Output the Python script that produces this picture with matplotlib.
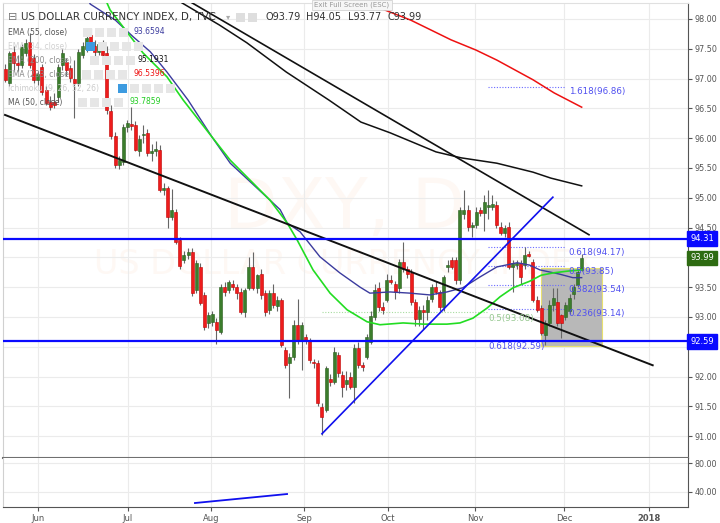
import numpy as np
import matplotlib.pyplot as plt
from matplotlib.patches import Rectangle

W, H = 720, 523

# daily candles, x = trading day counted from 1 Jun 2017 (0) up to 7 Dec 2017 (133)
first_idx = -9
opens = [97.16, 96.93, 97.45, 97.26, 97.23, 97.43, 97.61, 97.35, 96.98, 97.19,
         96.80, 96.61, 96.60, 96.69, 97.23, 97.28, 97.18, 97.00, 96.93, 97.40,
         97.50, 97.73, 97.55, 97.45, 97.55, 97.43, 96.45, 96.04, 95.55, 95.60,
         96.19, 96.24, 96.22, 95.79, 96.05, 96.08, 95.75, 95.78, 95.80, 95.13,
         95.16, 94.68, 94.76, 94.29, 93.96, 94.04, 94.09, 93.45, 93.84, 93.37,
         92.90, 92.92, 92.92, 92.75, 93.50, 93.45, 93.55, 93.50, 93.42, 93.08,
         93.49, 93.84, 93.49, 93.72, 93.40, 93.12, 93.40, 93.18,
         93.29, 92.45, 92.23, 92.33, 92.87, 92.61, 92.66, 92.61, 92.25, 92.23,
         91.49, 91.44, 91.96, 91.91, 92.36, 92.03, 91.88, 92.00, 91.83, 92.48,
         92.20, 92.33, 92.58, 93.00, 93.49, 93.17, 93.29, 93.62, 93.55, 93.49,
         93.92, 93.80, 93.74, 93.25, 92.97, 93.12, 93.08, 93.30, 93.50, 93.42,
         93.17, 93.84, 93.96, 93.96, 93.62, 94.73, 94.80, 94.51, 94.54, 94.80,
         94.74, 94.85, 94.85, 94.88, 94.51, 94.41, 94.51, 93.84, 93.87, 93.91,
         93.87, 94.06, 93.92, 93.29, 93.15, 92.70, 92.90, 93.20, 93.25, 93.03,
         93.00, 93.10, 93.38, 93.54, 93.79]
highs = [97.25, 97.47, 97.55, 97.40, 97.58, 97.66, 97.77, 97.42, 97.12, 97.25,
         96.88, 96.70, 96.75, 97.24, 97.50, 97.35, 97.22, 97.31, 97.50, 97.62,
         97.72, 97.85, 97.65, 97.62, 97.65, 97.55, 96.55, 96.10, 95.70, 96.24,
         96.30, 96.52, 96.28, 96.05, 96.22, 96.15, 95.90, 95.95, 95.88, 95.25,
         95.20, 95.15, 94.82, 94.35, 94.10, 94.15, 94.15, 93.95, 93.90, 93.42,
         93.08, 93.10, 92.98, 93.55, 93.58, 93.62, 93.62, 93.55, 93.48, 93.48,
         94.00, 94.09, 93.72, 93.80, 93.45, 93.45, 93.55, 93.35,
         93.32, 92.50, 92.40, 92.95, 93.30, 92.92, 92.72, 92.65, 92.30, 92.28,
         91.55, 92.18, 92.05, 92.50, 92.42, 92.10, 92.10, 92.08, 92.55, 92.58,
         92.25, 92.72, 93.10, 93.55, 93.58, 93.25, 93.72, 93.70, 93.60, 93.98,
         94.26, 93.85, 93.80, 93.30, 93.18, 93.20, 93.35, 93.55, 93.60, 93.45,
         93.70, 93.95, 94.00, 94.00, 94.85, 95.13, 94.88, 94.60, 94.85, 94.85,
         95.05, 95.13, 95.05, 94.95, 94.60, 94.55, 94.60, 93.95, 93.95, 93.95,
         94.17, 94.10, 93.98, 93.35, 93.20, 92.95, 93.28, 93.49, 93.49, 93.05,
         93.25, 93.38, 93.55, 93.80, 94.05]
lows = [96.95, 96.88, 97.15, 97.12, 97.18, 97.38, 97.18, 96.92, 96.90, 96.72,
        96.55, 96.48, 96.50, 96.60, 97.15, 97.05, 96.95, 96.34, 96.88, 97.35,
        97.45, 97.48, 97.38, 97.40, 97.35, 96.40, 95.98, 95.50, 95.48, 95.55,
        96.10, 96.14, 95.78, 95.70, 95.92, 95.70, 95.62, 95.70, 95.10, 95.05,
        94.49, 94.62, 94.22, 93.80, 93.90, 93.98, 93.35, 93.40, 93.20, 92.78,
        92.82, 92.85, 92.55, 92.72, 93.35, 93.40, 93.45, 93.30, 93.05, 93.00,
        93.45, 93.45, 93.40, 93.30, 93.02, 93.05, 93.15, 93.10,
        92.50, 92.15, 91.64, 92.28, 92.55, 92.11, 92.55, 92.22, 92.15, 91.50,
        91.02, 91.40, 91.85, 91.88, 92.00, 91.65, 91.78, 91.80, 91.56, 92.15,
        92.10, 92.30, 92.55, 92.95, 93.10, 93.05, 93.25, 93.55, 93.30, 93.40,
        93.75, 93.65, 93.20, 92.85, 92.85, 92.80, 92.95, 93.25, 93.38, 93.10,
        93.10, 93.75, 93.80, 93.55, 93.55, 94.65, 94.45, 94.35, 94.50, 94.70,
        94.45, 94.65, 94.80, 94.50, 94.38, 94.35, 93.80, 93.42, 93.80, 93.55,
        93.80, 94.00, 93.25, 93.08, 92.70, 92.53, 92.85, 93.10, 92.85, 92.65,
        92.95, 93.05, 93.30, 93.50, 93.77]
closes = [96.98, 97.43, 97.26, 97.22, 97.53, 97.60, 97.23, 96.98, 97.08, 96.78,
          96.59, 96.52, 96.55, 97.19, 97.43, 97.14, 97.01, 96.92, 97.45, 97.55,
          97.68, 97.53, 97.45, 97.58, 97.40, 96.47, 96.04, 95.55, 95.63, 96.19,
          96.25, 96.21, 95.80, 95.99, 96.07, 95.75, 95.78, 95.82, 95.13, 95.17,
          94.68, 94.80, 94.26, 93.86, 94.04, 94.09, 93.40, 93.91, 93.24, 92.83,
          93.03, 93.05, 92.78, 93.50, 93.42, 93.59, 93.50, 93.40, 93.08, 93.45,
          93.84, 93.49, 93.70, 93.37, 93.08, 93.40, 93.20, 93.29,
          92.53, 92.19, 92.33, 92.87, 92.61, 92.87, 92.61, 92.28, 92.23, 91.56,
          91.32, 92.14, 91.91, 92.41, 92.06, 91.83, 91.95, 91.83, 92.48, 92.20,
          92.16, 92.66, 93.02, 93.45, 93.17, 93.12, 93.62, 93.59, 93.42, 93.92,
          93.80, 93.72, 93.25, 92.97, 93.12, 93.09, 93.29, 93.50, 93.42, 93.17,
          93.67, 93.87, 93.84, 93.62, 94.80, 94.80, 94.51, 94.54, 94.76, 94.74,
          94.93, 94.88, 94.90, 94.54, 94.41, 94.50, 93.84, 93.91, 93.91, 93.67,
          94.04, 94.03, 93.29, 93.12, 92.73, 92.90, 93.20, 93.32, 92.90, 92.90,
          93.20, 93.32, 93.50, 93.76, 93.99]

# indicator curves (x = trading day, y = price)
ema55_x = [10.5, 11.9, 18.1, 22.5, 26.7, 30.8, 36.0, 41.9, 46.4, 56.2, 58.7, 60.4, 63.6,
           68.5, 73.4, 78.4, 80.8, 85.8, 90.7, 95.6, 99.8, 103.7, 107.9, 112.1, 117.1,
           120.2, 122.7, 127.5, 130.8, 133.0]
ema55_y = [98.45, 98.25, 97.98, 97.70, 97.45, 97.11, 96.64, 96.02, 95.58, 94.96, 94.80, 94.58, 94.43,
           94.01, 93.74, 93.50, 93.40, 93.42, 93.40, 93.37, 93.42, 93.49, 93.67, 93.84, 93.91,
           93.87, 93.79, 93.72, 93.66, 93.66]
ma50_x = [15.5, 16.8, 24.9, 30.8, 34.8, 41.9, 46.4, 56.2, 60.4, 62.9, 66.8, 71.0, 75.2, 80.1,
          83.3, 89.0, 93.9, 99.8, 103.0, 106.2, 109.7, 112.9, 116.1, 120.2, 123.0, 126.0,
          129.6, 133.0]
ma50_y = [98.35, 98.15, 97.43, 97.03, 96.64, 96.02, 95.63, 94.96, 94.58, 94.29, 93.79, 93.40, 93.12,
          92.92, 92.87, 92.90, 92.88, 92.88, 92.90, 92.98, 93.15, 93.34, 93.49, 93.60, 93.70,
          93.74, 93.77, 93.79]
ema200_x = [34.5, 43.7, 50.5, 60.2, 70.7, 78.6, 85.8, 97.1, 103.3, 112.1, 121.0, 125.4, 133.0]
ema200_y = [98.27, 97.90, 97.60, 97.11, 96.64, 96.27, 96.09, 95.77, 95.67, 95.58, 95.43, 95.33, 95.20]
ema233_x = [80.0, 90.9, 100.8, 106.9, 112.1, 121.0, 126.2, 133.0]
ema233_y = [98.27, 97.98, 97.65, 97.48, 97.31, 96.98, 96.76, 96.52]

# drawings
trend_upper = ([37.0, 134.8], [98.27, 94.38])
trend_lower = ([-9.1, 150.5], [96.39, 92.19])
trend_rise = ([69.0, 125.9], [91.04, 95.01])
levels = [94.31, 92.59]
fib_vals = [96.86, 94.17, 93.85, 93.54, 93.14]
fib_labels = ['1.618(96.86)', '0.618(94.17)', '0.5(93.85)', '0.382(93.54)', '0.236(93.14)']
fib_span = [109.9, 128.9]
fib_green = 93.08
fib_green_span = [69.0, 109.9]
box_x = [123.0, 138.0]
box_y = [92.51, 93.82]
osc_line = ([37.7, 60.4], [24.8, 37.2])

month_pos = [-0.9, 21.2, 41.7, 64.6, 85.3, 106.7, 128.6, 149.6]
month_lab = ['Jun', 'Jul', 'Aug', 'Sep', 'Oct', 'Nov', 'Dec', '2018']

legend_rows = [('EMA (55, close)', '#555555', '93.6594', '#3b3b9e', 133),
               ('EMA (34, close)', '#d0d0d0', '', None, 0),
               ('EMA (200, close)', '#8a8a8a', '95.1931', '#111111', 138),
               ('EMA (233, close)', '#8a8a8a', '96.5396', '#ee1111', 133),
               ('Ichimoku (9, 26, 52, 26)', '#cccccc', '', None, 0),
               ('MA (50, close)', '#555555', '93.7859', '#22cc22', 129)]


def fx(x):
    return x / W


def fy(y):
    return 1 - y / H


fig = plt.figure(figsize=(7.2, 5.23), dpi=100)
ax = fig.add_axes([fx(3), fy(458), (688 - 3) / W, (458 - 3) / H])
ax2 = fig.add_axes([fx(3), fy(507), (688 - 3) / W, (507 - 458) / H])

o = np.array(opens)
h = np.array(highs)
l = np.array(lows)
c = np.array(closes)
x = np.arange(first_idx, first_idx + len(c))

# watermark
ax.text(fx(345), fy(208), 'DXY, D', transform=fig.transFigure, fontsize=50,
        color='#fef8f4', ha='center', va='center', zorder=0)
ax.text(fx(345), fy(265), 'US DOLLAR CURRENCY INDEX', transform=fig.transFigure,
        fontsize=24, color='#fef8f4', ha='center', va='center', zorder=0)

# candles
up = c >= o
ax.vlines(x, l, h, color='#666666', lw=0.8, zorder=4)
body_lo = np.minimum(o, c)
body_h = np.maximum(np.abs(c - o), 0.015)
ax.bar(x[up], body_h[up], bottom=body_lo[up], width=0.74, color='#3b7d2c',
       edgecolor='#2a5e1e', lw=0.4, zorder=5)
ax.bar(x[~up], body_h[~up], bottom=body_lo[~up], width=0.74, color='#ee1c1c',
       edgecolor='#c00000', lw=0.4, zorder=5)

# gray box
ax.add_patch(Rectangle((box_x[0], box_y[0]), box_x[1] - box_x[0], box_y[1] - box_y[0],
                       facecolor='#b8b8b8', edgecolor='#e8e070', lw=0.8, zorder=2))

# moving averages
ax.plot(ema55_x, ema55_y, color='#3b3b9e', lw=1.0, zorder=6)
ax.plot(ma50_x, ma50_y, color='#22dd22', lw=1.2, zorder=6)
ax.plot(ema200_x, ema200_y, color='#111111', lw=1.1, zorder=6)
ax.plot(ema233_x, ema233_y, color='#ee1111', lw=1.1, zorder=6)

# trend lines and levels
ax.plot(*trend_upper, color='#111111', lw=1.2, zorder=6)
ax.plot(*trend_lower, color='#111111', lw=1.4, zorder=6)
ax.plot(*trend_rise, color='#1010ee', lw=1.2, zorder=6)
for lv in levels:
    ax.axhline(lv, color='#0a0aff', lw=1.6, zorder=6)

for v, s in zip(fib_vals, fib_labels):
    ax.plot(fib_span, [v, v], color='#6a6aff', lw=0.8, ls=(0, (1, 1.5)), zorder=3)
    ax.text(129.8, v - 0.08, s, fontsize=6.3, color='#5050f0', va='center', ha='left', zorder=7)
ax.plot(fib_green_span, [fib_green, fib_green], color='#a8dca0', lw=0.8, ls=(0, (1, 1.5)), zorder=3)
ax.text(109.9, fib_green - 0.1, '0.5(93.08)', fontsize=6.3, color='#96c890', va='center', zorder=7)
ax.text(109.9, levels[1] - 0.09, '0.618(92.59)', fontsize=6.3, color='#5050f0', va='center', zorder=7)

# price tags on axis
for val, col in [(94.31, '#0a0aff'), (93.99, '#2e6b12'), (92.59, '#0a0aff')]:
    ax.annotate(f'{val:.2f}', xy=(1, val), xycoords=('axes fraction', 'data'),
                xytext=(1.5, 0), textcoords='offset points', ha='left', va='center',
                fontsize=6, color='white', annotation_clip=False, zorder=10,
                bbox=dict(boxstyle='square,pad=0.35', fc=col, ec=col))

# axes styling
xlim = (-9.6, 159.2)
ax.set_xlim(*xlim)
ax.set_ylim(90.634, 98.268)
ax.set_yticks(np.arange(91, 98.01, 0.5))
ax.yaxis.set_major_formatter(plt.FuncFormatter(lambda v, p: f'{v:.2f}'))
ax.yaxis.tick_right()
ax.set_xticks(month_pos)
ax.tick_params(axis='x', length=0, labelbottom=False)
ax.tick_params(axis='y', colors='#555555', labelsize=5.8, length=3, pad=2)
ax.grid(color='#ebebeb', lw=0.8)
ax.set_axisbelow(True)
ax.spines['top'].set_color('#e0e0e0')
ax.spines['left'].set_color('#d0d0d0')
ax.spines['right'].set_color('#555555')
ax.spines['bottom'].set_color('#707070')
ax.spines['bottom'].set_linewidth(1.5)

ax2.plot(*osc_line, color='#1010ee', lw=1.3)
ax2.set_xlim(*xlim)
ax2.set_ylim(19.3, 86.9)
ax2.set_yticks([40, 80])
ax2.yaxis.set_major_formatter(plt.FuncFormatter(lambda v, p: f'{v:.2f}'))
ax2.yaxis.tick_right()
ax2.set_xticks(month_pos)
ax2.set_xticklabels(month_lab)
ax2.get_xticklabels()[-1].set_fontweight('bold')
ax2.tick_params(axis='y', colors='#555555', labelsize=5.8, length=3, pad=2)
ax2.tick_params(axis='x', colors='#555555', labelsize=6, length=3, pad=2)
ax2.grid(color='#ebebeb', lw=0.8)
ax2.set_axisbelow(True)
ax2.spines['top'].set_visible(False)
ax2.spines['left'].set_color('#d0d0d0')
ax2.spines['right'].set_color('#555555')
ax2.spines['bottom'].set_color('#555555')

# header
fig.text(fx(8), fy(17), '\u229f', fontsize=8, color='#777777', va='center')
fig.text(fx(21), fy(17), 'US DOLLAR CURRENCY INDEX, D, TVC', fontsize=7.4, color='#333333', va='center')
fig.text(fx(226), fy(17), '\u25be', fontsize=6, color='#aaaaaa', va='center')
for sx in (236, 248):
    fig.patches.append(Rectangle((fx(sx), fy(22)), 9 / W, 9 / H, transform=fig.transFigure,
                                 facecolor='#dedede', edgecolor='none', zorder=8))
for sx, s in [(266, 'O93.79'), (306, 'H94.05'), (348, 'L93.77'), (387, 'C93.99')]:
    fig.text(fx(sx), fy(17), s, fontsize=7, color='#333333', va='center')

# legend rows
icon_start = [83, 98, 90, 82, 130, 78]
for k, (lab, lc, val, vc, vx) in enumerate(legend_rows):
    yy = 32 + 14 * k
    fig.text(fx(8), fy(yy), lab, fontsize=5.5, color=lc, va='center', zorder=9)
    if k in (1, 4):
        fig.patches.append(Rectangle((fx(icon_start[k] - 12), fy(yy + 4.5)), 9 / W, 9 / H,
                                     transform=fig.transFigure, facecolor='#3d9be0',
                                     edgecolor='none', zorder=8))
    for j in range(4):
        fig.patches.append(Rectangle((fx(icon_start[k] + 12 * j), fy(yy + 4.5)), 9 / W, 9 / H,
                                     transform=fig.transFigure, facecolor='#e6e6e6',
                                     edgecolor='none', zorder=8))
    if val:
        fig.text(fx(vx), fy(yy), val, fontsize=5.5, color=vc, va='center', zorder=9)

fig.text(fx(352), fy(5), 'Exit Full Screen (ESC)', fontsize=5, color='#999999',
         ha='center', va='center', zorder=9,
         bbox=dict(boxstyle='square,pad=0.3', fc='#f6f6f6', ec='#cccccc', lw=0.5))

fig.savefig('out.png', dpi=100)
